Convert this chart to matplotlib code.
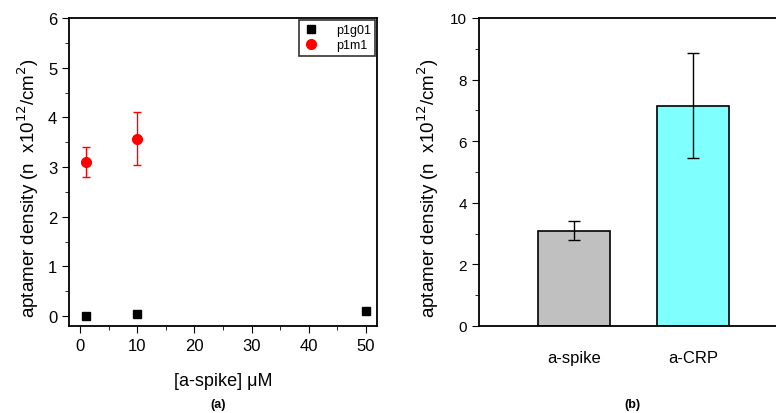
import matplotlib
matplotlib.use("Agg")
import matplotlib.pyplot as plt
from matplotlib.ticker import MultipleLocator

# panel (a) data
conc_g01 = [1, 10, 50]
dens_g01 = [0.0, 0.04, 0.1]
conc_m1 = [1, 10]
dens_m1 = [3.1, 3.57]
err_m1 = [0.3, 0.53]

# panel (b) data
targets = ["a-spike", "a-CRP"]
dens_bar = [3.1, 7.15]
err_bar = [0.3, 1.7]
bar_colors = ["#c0c0c0", "#80ffff"]

plt.rcParams['font.family'] = ['Liberation Sans', 'DejaVu Sans']
W, H = 776, 414
fig = plt.figure(figsize=(W / 100, H / 100), dpi=100)

def px(x0, y0, x1, y1):
    return [x0 / W, 1 - y1 / H, (x1 - x0) / W, (y1 - y0) / H]

ylab = "aptamer density (n  x10$^{12}$/cm$^{2}$)"

# ---- (a) ----
ax = fig.add_axes(px(69, 19, 377, 327))
ax.plot(conc_g01, dens_g01, 's', color='black', ms=6, label='p1g01')
ax.errorbar(conc_m1, dens_m1, yerr=err_m1, fmt='none', ecolor='red',
            capsize=3, elinewidth=1)
ax.plot(conc_m1, dens_m1, 'o', color='red', ms=7, label='p1m1')
ax.set_xlim(-2, 52)
ax.set_ylim(-0.2, 6)
ax.xaxis.set_major_locator(MultipleLocator(10))
ax.xaxis.set_minor_locator(MultipleLocator(5))
ax.yaxis.set_major_locator(MultipleLocator(1))
ax.yaxis.set_minor_locator(MultipleLocator(0.5))
ax.tick_params(which='both', direction='out', labelsize=12, top=False, right=False)
ax.tick_params(which='major', length=5)
ax.tick_params(which='minor', length=3)
for s in ax.spines.values():
    s.set_linewidth(1.3)
ax.set_xlabel("[a-spike] μM", fontsize=13, labelpad=14)
ax.set_ylabel(ylab, fontsize=13.5)
ax.yaxis.set_label_coords(-0.09, 0.45)
leg = ax.legend(loc='upper right', fontsize=9, frameon=True, fancybox=False,
                edgecolor='black', borderaxespad=0.15, handletextpad=1.4,
                labelspacing=0.25, handlelength=1.2, borderpad=0.35)
leg.get_frame().set_linewidth(1.2)
fig.text(218 / W, 1 - 405 / H, "(a)", fontsize=9, fontweight='bold',
         ha='center', va='center')

# ---- (b) ----
bx = fig.add_axes(px(479, 19, 788, 327))
pos = [1, 2]
bx.bar(pos, dens_bar, width=0.6, color=bar_colors, edgecolor='black', linewidth=1.2,
       yerr=err_bar, capsize=4, error_kw=dict(elinewidth=1, ecolor='black'))
bx.set_xlim(0.2, 2.8)
bx.set_ylim(0, 10)
bx.set_xticks(pos)
bx.set_xticklabels(targets)
bx.yaxis.set_major_locator(MultipleLocator(2))
bx.yaxis.set_minor_locator(MultipleLocator(1))
bx.tick_params(which='both', direction='out', labelsize=11, top=False, right=False)
bx.tick_params(axis='x', length=0, pad=17, labelsize=12)
bx.tick_params(which='major', axis='y', length=5)
bx.tick_params(which='minor', length=3)
for s in bx.spines.values():
    s.set_linewidth(1.3)
bx.set_ylabel(ylab, fontsize=13.5)
bx.yaxis.set_label_coords(-0.122, 0.45)
fig.text(632 / W, 1 - 405 / H, "(b)", fontsize=9, fontweight='bold',
         ha='center', va='center')

fig.savefig("out.png", dpi=100)
